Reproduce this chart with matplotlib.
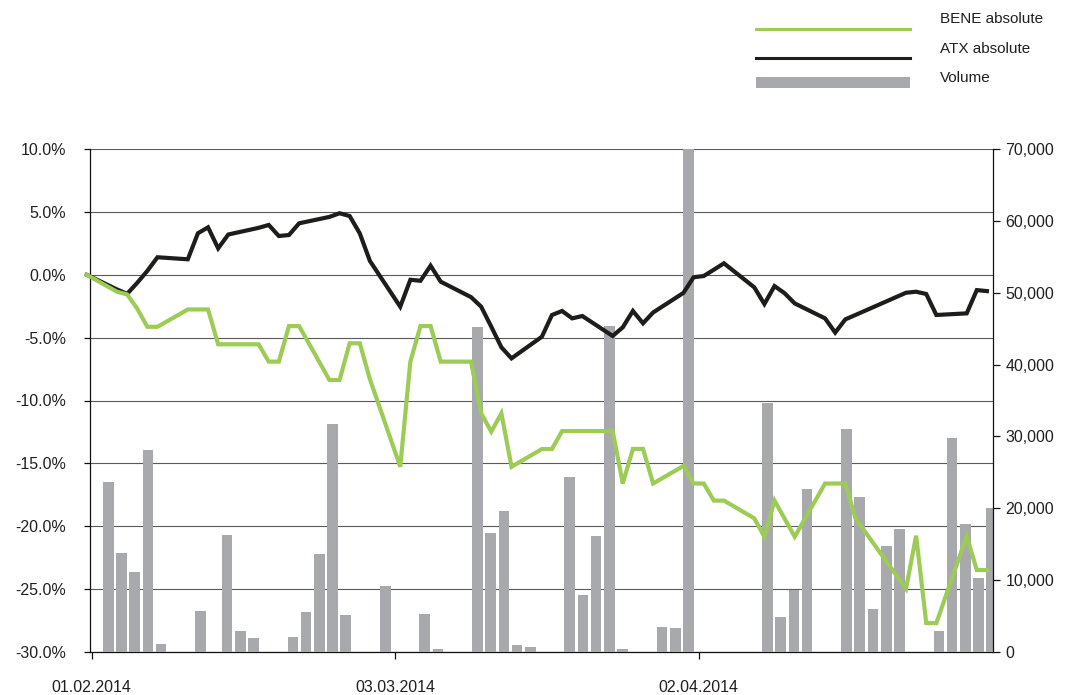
import numpy as np
import matplotlib
matplotlib.use("Agg")
import matplotlib.pyplot as plt
import matplotlib.dates as mdates
from matplotlib.lines import Line2D
from matplotlib.patches import Rectangle

plt.rcParams['font.family'] = ['Liberation Sans', 'DejaVu Sans']

# ---------------- data ----------------
trade_dates = [
    "2014-01-31",
    "2014-02-03", "2014-02-04", "2014-02-05", "2014-02-06", "2014-02-07",
    "2014-02-10", "2014-02-11", "2014-02-12", "2014-02-13", "2014-02-14",
    "2014-02-17", "2014-02-18", "2014-02-19", "2014-02-20", "2014-02-21",
    "2014-02-24", "2014-02-25", "2014-02-26", "2014-02-27", "2014-02-28",
    "2014-03-03", "2014-03-04", "2014-03-05", "2014-03-06", "2014-03-07",
    "2014-03-10", "2014-03-11", "2014-03-12", "2014-03-13", "2014-03-14",
    "2014-03-17", "2014-03-18", "2014-03-19", "2014-03-20", "2014-03-21",
    "2014-03-24", "2014-03-25", "2014-03-26", "2014-03-27", "2014-03-28",
    "2014-03-31", "2014-04-01", "2014-04-02", "2014-04-03", "2014-04-04",
    "2014-04-07", "2014-04-08", "2014-04-09", "2014-04-10", "2014-04-11",
    "2014-04-14", "2014-04-15", "2014-04-16", "2014-04-17",
    "2014-04-22", "2014-04-23", "2014-04-24", "2014-04-25",
    "2014-04-28", "2014-04-29", "2014-04-30",
]

bene_absolute = [
    0.0,
    -1.35, -1.56, -2.7, -4.14, -4.14,
    -2.76, -2.76, -2.76, -5.53, -5.53,
    -5.53, -6.91, -6.91, -4.08, -4.08,
    -8.37, -8.37, -5.45, -5.45, -8.3,
    -15.27, -6.9, -4.08, -4.08, -6.91,
    -6.91, -11.02, -12.48, -11.02, -15.27,
    -13.86, -13.86, -12.43, -12.43, -12.43,
    -12.43, -16.6, -13.85, -13.85, -16.6,
    -15.2, -16.6, -16.6, -17.96, -17.96,
    -19.37, -20.83, -17.96, -19.4, -20.83,
    -16.6, -16.6, -16.6, -19.37,
    -24.97, -20.75, -27.7, -27.7,
    -20.78, -23.48, -23.48,
]

atx_absolute = [
    0.0,
    -1.17, -1.52, -0.64, 0.31, 1.39,
    1.23, 3.3, 3.77, 2.1, 3.2,
    3.73, 3.96, 3.08, 3.16, 4.09,
    4.6, 4.89, 4.67, 3.29, 1.1,
    -2.54, -0.4, -0.48, 0.72, -0.55,
    -1.78, -2.54, -4.13, -5.77, -6.65,
    -4.93, -3.2, -2.88, -3.47, -3.28,
    -4.87, -4.18, -2.88, -3.86, -3.0,
    -1.44, -0.2, -0.1, 0.4, 0.91,
    -1.0, -2.33, -0.9, -1.47, -2.28,
    -3.47, -4.6, -3.55, -3.2,
    -1.43, -1.35, -1.53, -3.2,
    -3.07, -1.22, -1.3,
]

# volume: one value per calendar day starting at vol_start
vol_start = "2014-02-03"
volume = [
    23700, 13780, 11180, 28110, 1070, 0, 0,
    5700, 0, 16240, 2880, 1950, 0, 0,
    2130, 5570, 13640, 31730, 5100, 0, 0,
    9180, 0, 0, 5330, 460, 0, 0,
    45200, 16560, 19620, 1020, 740, 0, 0,
    24350, 7930, 16140, 45400, 370, 0, 0,
    3530, 3390, 70000, 0, 0, 0, 0,
    0, 34610, 4820, 8580, 22730, 0, 0,
    31080, 21620, 5980, 14700, 17070, 0, 0,
    2970, 29780, 17810, 10300, 20000,
]

x_tick_dates = ["2014-02-01", "2014-03-03", "2014-04-02"]
x_tick_labels = ["01.02.2014", "03.03.2014", "02.04.2014"]
pct_ticks = [10, 5, 0, -5, -10, -15, -20, -25, -30]
vol_ticks = [0, 10000, 20000, 30000, 40000, 50000, 60000, 70000]

legend_labels = ["BENE absolute", "ATX absolute", "Volume"]

# ---------------- style ----------------
GREEN = '#9ccb56'
BLACK = '#1d1d1b'
GREY = '#a8a9ad'
TEXT = '#231f20'
GRID = '#5a5a5c'
FS = 11.5

W, H = 1088, 695
fig = plt.figure(figsize=(W / 100, H / 100), dpi=100)
rect = [90 / W, 1 - 652 / H, (993 - 90) / W, (652 - 149) / H]

ax = fig.add_axes(rect, zorder=0)
axb = fig.add_axes(rect, zorder=1)
axl = fig.add_axes(rect, zorder=2)

x_lines = mdates.datestr2num(trade_dates)
base = mdates.datestr2num("2014-02-01")
xlim_lines = (base - 0.67, base + 88.6)

# ---- base axis: left % scale, grid, dates ----
ax.set_xlim(*xlim_lines)
ax.set_ylim(-30, 10)
ax.set_yticks(pct_ticks)
ax.set_yticklabels([f"{v:.1f}%" for v in pct_ticks])
ax.set_xticks(mdates.datestr2num(x_tick_dates) - 0.5)
ax.set_xticklabels(x_tick_labels)
ax.yaxis.grid(True, color=GRID, lw=0.8)
ax.xaxis.grid(False)
for s in ['top', 'right']:
    ax.spines[s].set_visible(False)
for s in ['left', 'bottom']:
    ax.spines[s].set_color('#111111')
    ax.spines[s].set_linewidth(0.9)
ax.tick_params(axis='y', direction='out', length=4, width=0.9, pad=13,
               labelsize=FS, labelcolor=TEXT, color='#111111')
ax.tick_params(axis='x', direction='out', length=5, width=0.9, pad=15,
               labelsize=FS, labelcolor=TEXT, color='#111111')

# ---- bar axis: volume, right scale ----
x_vol = mdates.datestr2num(vol_start) + np.arange(len(volume))
vb = mdates.datestr2num(vol_start)
axb.patch.set_visible(False)
axb.bar(x_vol, volume, width=0.81, color=GREY, linewidth=0)
axb.set_xlim(vb - 1.39, vb + 67.1)
axb.set_ylim(0, 70000)
axb.set_xticks([])
axb.yaxis.tick_right()
axb.set_yticks(vol_ticks)
axb.set_yticklabels([f"{v:,}" for v in vol_ticks])
for s in ['top', 'left', 'bottom']:
    axb.spines[s].set_visible(False)
axb.spines['right'].set_color('#111111')
axb.spines['right'].set_linewidth(0.9)
axb.tick_params(axis='y', direction='out', length=5, width=0.9, pad=4,
                labelsize=FS, labelcolor=TEXT, color='#111111')

# ---- line axis ----
axl.patch.set_visible(False)
axl.set_xlim(*xlim_lines)
axl.set_ylim(-30, 10)
axl.set_xticks([])
axl.set_yticks([])
for s in axl.spines.values():
    s.set_visible(False)
axl.plot(x_lines, atx_absolute, color=BLACK, lw=3.0, solid_joinstyle='miter',
         clip_on=False, zorder=3)
axl.plot(x_lines, bene_absolute, color=GREEN, lw=3.0, solid_joinstyle='miter',
         clip_on=False, zorder=4)

# ---- legend (manual, top right) ----
lx0, lx1 = 756 / W, 910 / W
fig.add_artist(Line2D([lx0, lx1], [1 - 29.3 / H] * 2, color=GREEN, lw=2.2,
                      transform=fig.transFigure))
fig.add_artist(Line2D([lx0, lx1], [1 - 58.3 / H] * 2, color=BLACK, lw=2.2,
                      transform=fig.transFigure))
fig.add_artist(Rectangle((lx0, 1 - 87.5 / H), lx1 - lx0, 10.5 / H,
                         color=GREY, lw=0, transform=fig.transFigure))
for lab, yb in zip(legend_labels, [23.3, 53.0, 82.5]):
    fig.text(940 / W, 1 - yb / H, lab, fontsize=11, color=TEXT,
             ha='left', va='baseline')

fig.savefig("out.png", dpi=100)
